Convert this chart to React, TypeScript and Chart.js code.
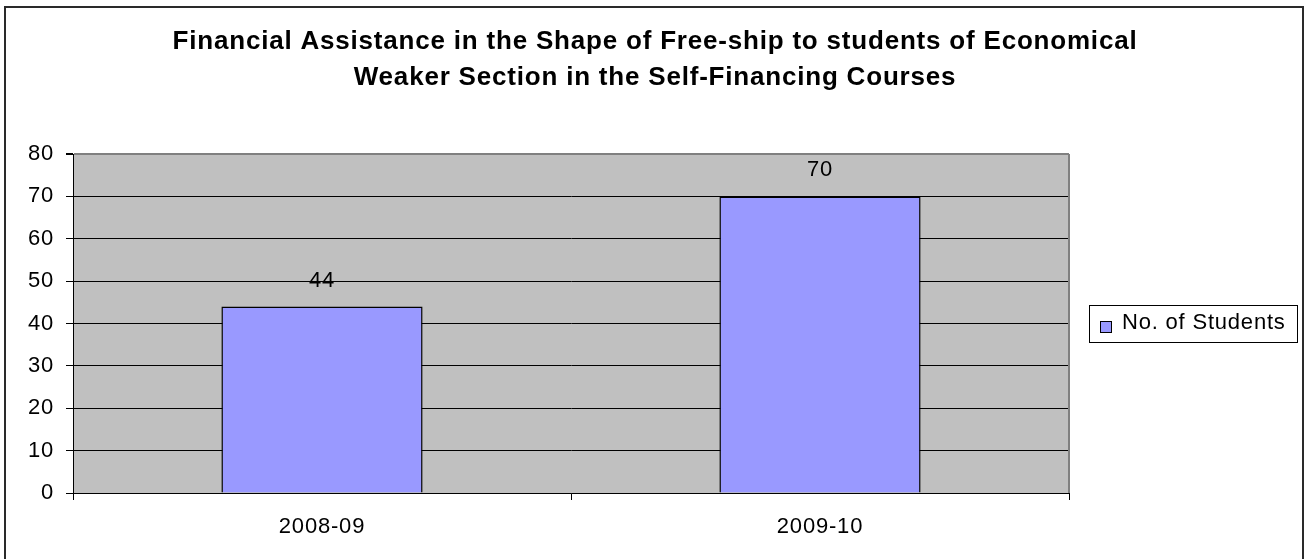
import React, { useEffect, useRef } from "react";
import { Chart, registerables } from "chart.js";

Chart.register(...registerables);

const categories = ["2008-09", "2009-10"];
const students = [44, 70];
const seriesLabel = "No. of Students";
const titleLines = [
  "Financial Assistance in the Shape of Free-ship to students of Economical",
  "Weaker Section in the Self-Financing Courses",
];
const yMin = 0;
const yMax = 80;
const yStep = 10;

const FONT = "'Liberation Sans', Arial, Helvetica, sans-serif";
const BAR_COLOR = "#9999FF";
const PLOT_BG = "#C0C0C0";
const SPACING = "0.8px";

const decorPlugin = {
  id: "decor",
  beforeDraw(chart: any) {
    const { ctx, chartArea } = chart;
    ctx.save();
    ctx.fillStyle = "#ffffff";
    ctx.fillRect(0, 0, chart.width, chart.height);
    // outer frame
    ctx.strokeStyle = "#2a2a2a";
    ctx.lineWidth = 2;
    ctx.strokeRect(5, 7, 1298, 600);
    // plot background
    ctx.fillStyle = PLOT_BG;
    ctx.fillRect(chartArea.left, chartArea.top, chartArea.right - chartArea.left, chartArea.bottom - chartArea.top);
    ctx.restore();
    (ctx as any).letterSpacing = SPACING;
  },
  afterDraw(chart: any) {
    const { ctx, chartArea } = chart;
    ctx.save();
    (ctx as any).letterSpacing = SPACING;
    // right plot border
    ctx.strokeStyle = "#808080";
    ctx.lineWidth = 2;
    ctx.beginPath();
    ctx.moveTo(chartArea.right, chartArea.top);
    ctx.lineTo(chartArea.right, chartArea.bottom);
    ctx.stroke();

    // data labels
    const meta = chart.getDatasetMeta(0);
    ctx.fillStyle = "#000";
    ctx.font = `22px ${FONT}`;
    ctx.textAlign = "center";
    ctx.textBaseline = "middle";
    meta.data.forEach((bar: any, i: number) => {
      ctx.fillText(String(chart.data.datasets[0].data[i]), bar.x, bar.y - 26);
    });

    // title
    ctx.font = `bold 26px ${FONT}`;
    titleLines.forEach((line, i) => {
      ctx.fillText(line, 655, 42 + i * 36);
    });

    // legend
    ctx.strokeStyle = "#000";
    ctx.lineWidth = 1;
    ctx.strokeRect(1089.5, 305.5, 208, 37);
    ctx.fillStyle = chart.data.datasets[0].backgroundColor;
    ctx.fillRect(1100.5, 321.5, 11, 11);
    ctx.strokeRect(1100.5, 321.5, 11, 11);
    ctx.fillStyle = "#000";
    ctx.font = `22px ${FONT}`;
    ctx.textAlign = "left";
    ctx.fillText(chart.data.datasets[0].label, 1122, 323);
    ctx.restore();
  },
};

export default function App() {
  const ref = useRef<HTMLCanvasElement>(null);
  useEffect(() => {
    if (!ref.current) return;
    const chart = new Chart(ref.current, {
      type: "bar",
      data: {
        labels: categories,
        datasets: [
          {
            label: seriesLabel,
            data: students,
            backgroundColor: BAR_COLOR,
            borderColor: "#000",
            borderWidth: 1.5,
            barPercentage: 0.404,
            categoryPercentage: 1,
          },
        ],
      },
      options: {
        responsive: false,
        animation: false,
        layout: { padding: { left: 0, right: 241, top: 154, bottom: 0 } },
        plugins: {
          legend: { display: false },
          title: { display: false },
          tooltip: { enabled: false },
        },
        scales: {
          x: {
            grid: {
              offset: true,
              drawOnChartArea: false,
              drawTicks: true,
              tickLength: 7,
              tickColor: "#000",
            },
            border: { color: "#000", width: 1 },
            ticks: { color: "#000", font: { family: FONT, size: 22 }, padding: 14 },
            afterFit(scale: any) {
              scale.height = 66;
            },
          },
          y: {
            min: yMin,
            max: yMax,
            ticks: { stepSize: yStep, color: "#000", font: { family: FONT, size: 22 }, padding: 12 },
            grid: {
              color: (c: any) => (c.tick && c.tick.value === yMax ? "#808080" : "#000"),
              lineWidth: (c: any) => (c.tick && c.tick.value === yMax ? 2 : 1),
              tickLength: 7,
              tickColor: "#000",
            },
            border: { color: "#000", width: 1 },
            afterFit(scale: any) {
              scale.width = 73;
            },
          },
        },
      },
      plugins: [decorPlugin],
    });
    return () => chart.destroy();
  }, []);
  return (
    <canvas
      ref={ref}
      width={1310}
      height={559}
      style={{ position: "fixed", left: 0, top: 0, display: "block" }}
    />
  );
}
